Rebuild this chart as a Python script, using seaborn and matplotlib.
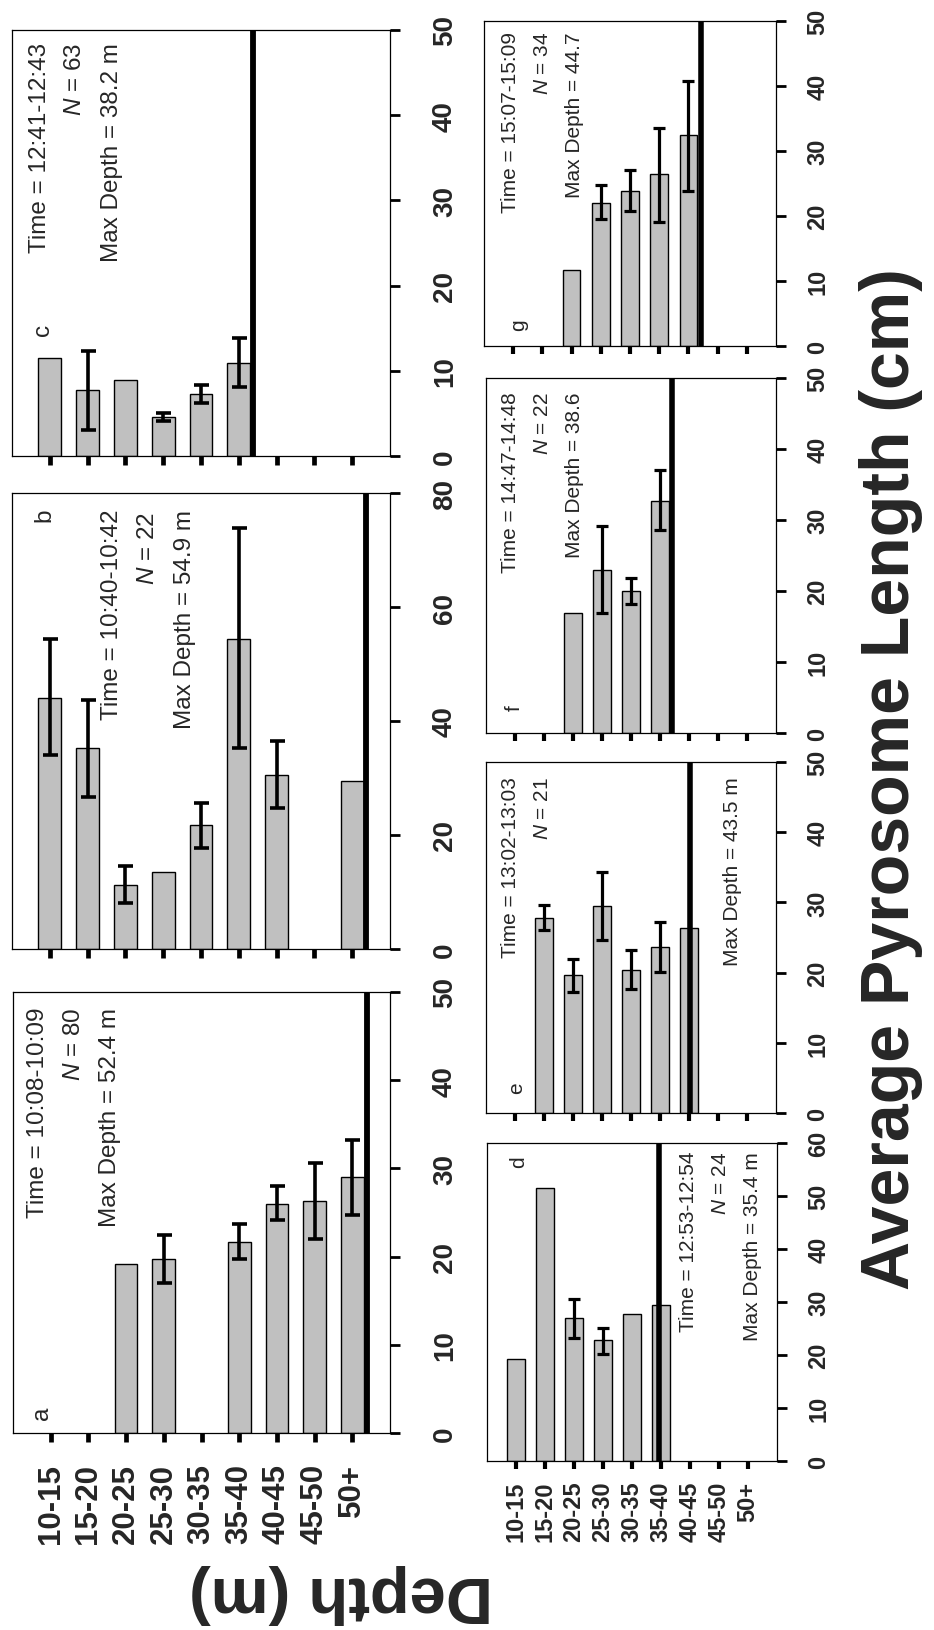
import matplotlib
matplotlib.use("Agg")
import matplotlib.pyplot as plt
import seaborn as sns
import pandas as pd
import numpy as np

sns.set_style("ticks")
FONT = ["Liberation Sans", "DejaVu Sans"]
plt.rcParams["font.family"] = FONT
plt.rcParams["mathtext.fontset"] = "custom"
plt.rcParams["mathtext.it"] = "Liberation Sans:italic"
plt.rcParams["mathtext.rm"] = "Liberation Sans"

# ---------------- data ----------------
depth_bins = ['10-15', '15-20', '20-25', '25-30', '30-35', '35-40', '40-45', '45-50', '50+']

a_mean = [None, None, 19.2, 19.7, None, 21.7, 26.0, 26.3, 29.0]
a_lo   = [None, None, None, 17.0, None, 19.7, 24.1, 22.0, 24.7]
a_hi   = [None, None, None, 22.4, None, 23.7, 28.0, 30.6, 33.2]

b_mean = [44.1, 35.2, 11.2, 13.5, 21.8, 54.4, 30.6, None, 29.4]
b_lo   = [34.1, 26.7, 8.1, None, 17.8, 35.2, 24.7, None, None]
b_hi   = [54.4, 43.7, 14.5, None, 25.7, 73.9, 36.5, None, None]

c_mean = [11.5, 7.8, 8.9, 4.6, 7.3, 10.9, None, None, None]
c_lo   = [None, 3.1, None, 4.1, 6.2, 8.1, None, None, None]
c_hi   = [None, 12.3, None, 5.0, 8.3, 13.8, None, None, None]

d_mean = [19.2, 51.5, 27.0, 22.8, 27.7, 29.5, None, None, None]
d_lo   = [None, None, 23.3, 20.2, None, None, None, None, None]
d_hi   = [None, None, 30.6, 25.1, None, None, None, None, None]

e_mean = [None, 27.8, 19.6, 29.5, 20.3, 23.6, 26.3, None, None]
e_lo   = [None, 26.1, 17.2, 24.6, 17.7, 20.1, None, None, None]
e_hi   = [None, 29.6, 22.0, 34.4, 23.2, 27.2, None, None, None]

f_mean = [None, None, 16.9, 23.0, 20.0, 32.7, None, None, None]
f_lo   = [None, None, None, 16.9, 18.1, 28.6, None, None, None]
f_hi   = [None, None, None, 29.1, 21.9, 37.0, None, None, None]

g_mean = [None, None, 11.7, 22.0, 23.8, 26.5, 32.4, None, None]
g_lo   = [None, None, None, 19.5, 20.7, 19.1, 23.9, None, None]
g_hi   = [None, None, None, 24.7, 27.1, 33.6, 40.8, None, None]

# max-depth marker position on the category axis
maxdepth_pos = {'a': 8.38, 'b': 8.36, 'c': 5.37, 'd': 4.93, 'e': 6.05, 'f': 5.43, 'g': 6.44}

times = {'a': '10:08-10:09', 'b': '10:40-10:42', 'c': '12:41-12:43', 'd': '12:53-12:54',
         'e': '13:02-13:03', 'f': '14:47-14:48', 'g': '15:07-15:09'}
counts = {'a': 80, 'b': 22, 'c': 63, 'd': 24, 'e': 21, 'f': 22, 'g': 34}
maxdepth_txt = {'a': 'Max Depth = 52.4 m', 'b': 'Max Depth = 54.9 m', 'c': 'Max Depth = 38.2 m',
                'd': 'Max Depth = 35.4 m', 'e': 'Max Depth = 43.5 m', 'f': 'Max Depth = 38.6',
                'g': 'Max Depth = 44.7'}

series = {'a': (a_mean, a_lo, a_hi), 'b': (b_mean, b_lo, b_hi), 'c': (c_mean, c_lo, c_hi),
          'd': (d_mean, d_lo, d_hi), 'e': (e_mean, e_lo, e_hi), 'f': (f_mean, f_lo, f_hi),
          'g': (g_mean, g_lo, g_hi)}
ymax = {'a': 50, 'b': 80, 'c': 50, 'd': 60, 'e': 50, 'f': 50, 'g': 50}
ystep = {'a': 10, 'b': 20, 'c': 10, 'd': 10, 'e': 10, 'f': 10, 'g': 10}

# ---------------- layout (pixels) ----------------
W, H = 934, 1631
fig = plt.figure(figsize=(W / 100, H / 100), dpi=100)

def box(x0, y0, x1, y1):
    return [x0 / W, 1 - y1 / H, (x1 - x0) / W, (y1 - y0) / H]

def fx(x):
    return x / W

def fy(y):
    return 1 - y / H

boxes = {'c': (12, 31, 390, 457), 'b': (12, 494, 390, 950), 'a': (13, 993, 390, 1434),
         'g': (484, 22, 776, 347), 'f': (486, 379, 776, 734), 'e': (486, 763, 776, 1114),
         'd': (487, 1144, 777, 1462)}
left_col = {'a', 'b', 'c'}

text_pos = {  # (x_time, x_n, x_max, y_top_time, y_top_n, y_top_max)
    'a': (38, 74, 110, 1008, 1008, 1008),
    'b': (112, 148, 185, 510, 512, 510),
    'c': (40, 75, 112, 43, 43, 43),
    'd': (689, 721, 753, 1152, 1152, 1152),
    'e': (510, 542, 733, 777, 777, 777),
    'f': (511, 543, 574, 392, 392, 392),
    'g': (511, 543, 574, 32, 32, 32),
}
letter_pos = {'a': (42, 1413), 'b': (44, 515), 'c': (43, 330), 'd': (519, 1162),
              'e': (517, 1088), 'f': (514, 708), 'g': (519, 325)}

for key in ['a', 'b', 'c', 'd', 'e', 'f', 'g']:
    mean, lo, hi = series[key]
    ax = fig.add_axes(box(*boxes[key]))
    df = pd.DataFrame({'depth': depth_bins, 'length': mean}).dropna()
    sns.barplot(data=df, x='depth', y='length', order=depth_bins, color='#c0c0c0',
                saturation=1, edgecolor='black', linewidth=1.0, width=0.6,
                errorbar=None, ax=ax)
    # error bars
    idx = [i for i in range(len(depth_bins)) if lo[i] is not None]
    m = np.array([mean[i] for i in idx])
    l = np.array([lo[i] for i in idx])
    h = np.array([hi[i] for i in idx])
    big = key in left_col
    ax.errorbar(idx, m, yerr=[m - l, h - m], fmt='none', ecolor='black',
                elinewidth=2.6 if big else 2.3, capsize=5.4 if big else 4.4,
                capthick=2.6 if big else 2.3, zorder=5)
    ax.axvline(maxdepth_pos[key], color='black', lw=4.2 if big else 4.0, zorder=6)

    ax.set_xlim(-1, 9)
    ax.set_ylim(0, ymax[key])
    ax.set_yticks(range(0, ymax[key] + 1, ystep[key]))
    ax.yaxis.tick_right()
    ax.set_xlabel('')
    ax.set_ylabel('')
    for sp in ax.spines.values():
        sp.set_visible(True)
        sp.set_linewidth(0.9)
        sp.set_color('black')
    ax.tick_params(axis='x', direction='out', length=6.5 if big else 5.5,
                   width=3.4 if big else 3.0, color='black')
    ax.tick_params(axis='y', direction='out', length=7.2, width=2.0, color='black',
                   pad=23 if big else 14.5)
    ylabs = ax.set_yticklabels([str(v) for v in range(0, ymax[key] + 1, ystep[key])],
                               rotation=90, fontsize=20 if big else 17,
                               fontweight='bold', family=FONT)
    for t in ylabs:
        t.set_ha('left')
        t.set_va('center')
    if key in ('a', 'd'):
        xl = ax.set_xticklabels(depth_bins, rotation=90, fontsize=22.5 if key == 'a' else 17,
                                fontweight='bold', family=FONT)
        for t in xl:
            t.set_ha('center')
            t.set_va('top')
        ax.tick_params(axis='x', pad=15 if key == 'a' else 8.5)
    else:
        ax.set_xticklabels([])

    # annotations
    xt, xn, xm, yt, yn, ym = text_pos[key]
    fs = 17.5 if big else 15
    fig.text(fx(xt), fy(yt), 'Time = ' + times[key], rotation=90, ha='center', va='top',
             fontsize=fs, family=FONT)
    fig.text(fx(xn), fy(yn), r'$N$ = %d' % counts[key], rotation=90, ha='center', va='top',
             fontsize=fs, family=FONT)
    fig.text(fx(xm), fy(ym), maxdepth_txt[key], rotation=90, ha='center', va='top',
             fontsize=fs, family=FONT)
    lx, ly = letter_pos[key]
    fig.text(fx(lx), fy(ly), key, rotation=90, ha='center', va='center',
             fontsize=fs, family=FONT)

fig.text(fx(891), fy(779), 'Average Pyrosome Length (cm)', rotation=90, ha='center',
         va='center', fontsize=49, fontweight='bold', family=FONT)
fig.text(fx(341), fy(1594), 'Depth (m)', rotation=180, ha='center', va='center',
         fontsize=47, fontweight='bold', family=FONT)

fig.savefig('out.png', dpi=100)
